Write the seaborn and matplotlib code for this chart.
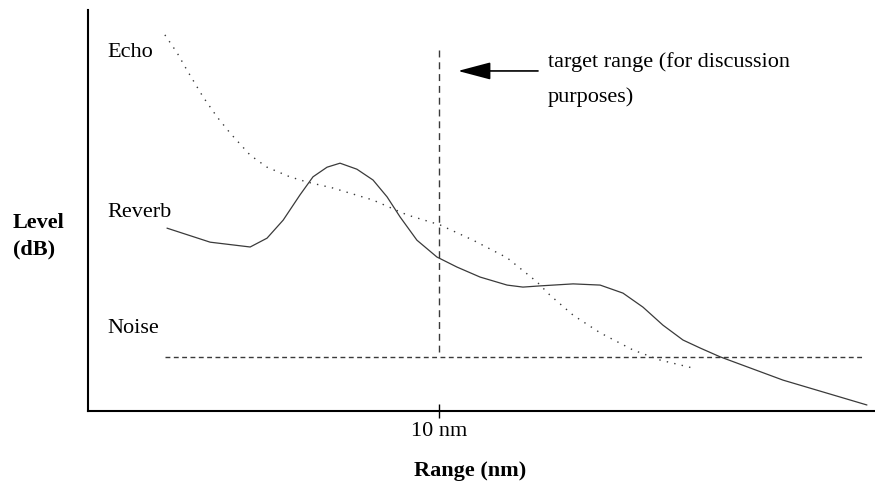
import matplotlib
matplotlib.use("Agg")
import matplotlib.pyplot as plt
import seaborn as sns
import pandas as pd

# ---- data (x: range in nm, y: level in arbitrary dB units) ----
echo_x = [2.19, 2.54, 2.82, 3.28, 3.68, 4.05, 4.62, 5.10, 5.75, 6.24, 6.98, 8.12, 9.09, 10.03,
          10.97, 11.94, 12.79, 13.16, 13.82, 14.59, 15.53, 16.30, 17.24]
echo_y = [93.8, 89.3, 85.0, 78.3, 73.3, 69.3, 63.8, 60.8, 58.4, 57.1, 55.6, 52.6, 48.9, 46.4,
          42.6, 38.2, 32.2, 28.9, 23.9, 19.5, 15.2, 12.7, 10.7]

reverb_x = [2.25, 3.48, 4.62, 5.10, 5.56, 6.04, 6.41, 6.81, 7.18, 7.66, 8.12, 8.52, 8.89, 9.37,
            9.94, 10.51, 11.17, 11.94, 12.39, 12.88, 13.82, 14.59, 15.24, 15.81, 16.38, 16.95,
            17.44, 18.01, 19.80, 22.19]
reverb_y = [45.6, 42.1, 40.9, 43.1, 47.6, 53.9, 58.4, 60.8, 61.8, 60.3, 57.6, 53.4, 48.4, 42.6,
            38.4, 35.9, 33.4, 31.4, 30.9, 31.2, 31.7, 31.4, 29.4, 25.9, 21.4, 17.7,
            15.7, 13.5, 7.7, 1.5]

noise_x = [2.19, 22.08]
noise_y = [13.5, 13.5]

target_x = [10.0, 10.0]
target_y = [90.0, 14.7]

tick_pos = [10]
tick_labels = ["10 nm"]

series_labels = ["Echo", "Reverb", "Noise"]
label_y = [88.4, 48.5, 19.5]

sns.set_theme(style="white")
plt.rcParams["font.family"] = ["Liberation Serif", "DejaVu Serif"]

fig = plt.figure(figsize=(8.75, 4.83), dpi=100)
W, H = 875, 483
ax = fig.add_axes([88 / W, (H - 411) / H, 787 / W, 401 / H])

curve_col = "#3a3a3a"
echo_df = pd.DataFrame({"x": echo_x, "y": echo_y})
rev_df = pd.DataFrame({"x": reverb_x, "y": reverb_y})
noise_df = pd.DataFrame({"x": noise_x, "y": noise_y})

sns.lineplot(data=echo_df, x="x", y="y", ax=ax, sort=False, color=curve_col,
             linewidth=1.0, linestyle=(0, (1, 4.5)))
sns.lineplot(data=rev_df, x="x", y="y", ax=ax, sort=False, color=curve_col,
             linewidth=0.9)
sns.lineplot(data=noise_df, x="x", y="y", ax=ax, sort=False, color=curve_col,
             linewidth=1.0, linestyle=(0, (3.5, 2.5)))
ax.plot(target_x, target_y, color=curve_col, linewidth=1.0, linestyle=(0, (5, 3.5)))

ax.set_xlim(0, 22.42)
ax.set_ylim(0, 100)

# series labels
for lab, yy in zip(series_labels, label_y):
    ax.text(0.54, yy, lab, fontsize=16, ha="left", va="baseline", color="black")

# arrow + annotation
ax.annotate("", xy=(10.54, 84.8), xytext=(12.82, 84.8),
            arrowprops=dict(arrowstyle="-|>,head_length=1.7,head_width=0.45",
                            color="black", lw=1.2, shrinkA=0, shrinkB=0))
ax.text(13.1, (411 - 66.7) / 4.01, "target range (for discussion",
        fontsize=16, ha="left", va="baseline", color="black")
ax.text(13.1, (411 - 102) / 4.01, "purposes)",
        fontsize=16, ha="left", va="baseline", color="black")

# spines
for s in ["top", "right"]:
    ax.spines[s].set_visible(False)
for s in ["left", "bottom"]:
    ax.spines[s].set_color("black")
    ax.spines[s].set_linewidth(1.5)

ax.set_xticks(tick_pos)
ax.set_xticklabels(tick_labels, fontsize=16, color="black")
ax.tick_params(axis="x", direction="inout", length=9.5, width=1.0, color="black",
               pad=3.5, bottom=True)
ax.set_yticks([])

ax.set_xlabel("Range (nm)", fontsize=16, fontweight="bold", color="black")
ax.xaxis.set_label_coords((470 - 88) / 787, (411 - 471) / 401)
ax.xaxis.label.set_va("center")

ax.set_ylabel("Level\n(dB)", fontsize=16, fontweight="bold", rotation=0, color="black")
ax.yaxis.set_label_coords((13 - 88) / 787, (411 - 236) / 401)
ax.yaxis.label.set_ha("left")
ax.yaxis.label.set_va("center")
ax.yaxis.label.set_linespacing(1.4)

fig.savefig("out.png", dpi=100, facecolor="white")
